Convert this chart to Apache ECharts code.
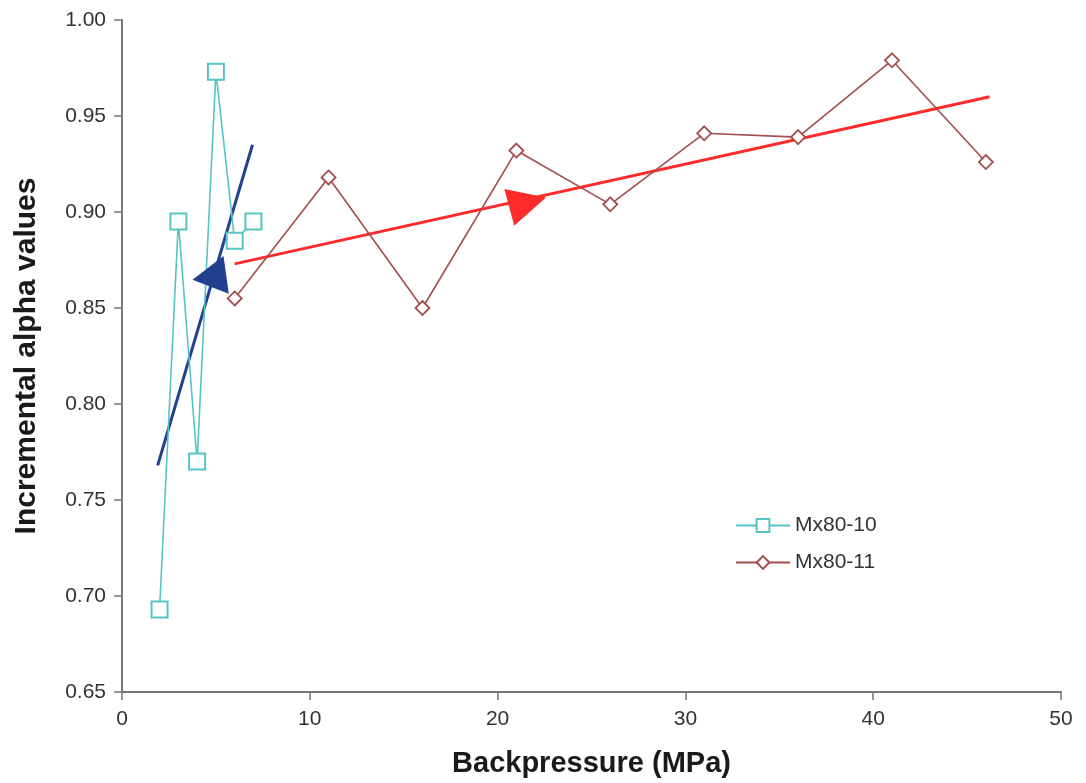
<!DOCTYPE html>
<html><head><meta charset="utf-8">
<script src="https://cdn.jsdelivr.net/npm/echarts@6/dist/echarts.min.js"></script>
<style>html,body{margin:0;padding:0;background:#fff}#c{width:1086px;height:783px}</style>
</head><body><div id="c"></div>
<script>
// Data
const mx10X = [2, 3, 4, 5, 6, 7];
const mx10Y = [0.693, 0.895, 0.770, 0.973, 0.885, 0.895];
const mx11X = [6, 11, 16, 21, 26, 31, 36, 41, 46];
const mx11Y = [0.855, 0.918, 0.850, 0.932, 0.904, 0.941, 0.939, 0.979, 0.926];
const blueTrendX = [1.9, 6.95];
const blueTrendY = [0.768, 0.935];
const redTrendX = [6.0, 46.2];
const redTrendY = [0.873, 0.960];
const blueArrow = [4.65, 0.866];
const redArrow = [21.6, 0.905];
const xTicks = [0, 10, 20, 30, 40, 50];
const yTicks = [0.65, 0.70, 0.75, 0.80, 0.85, 0.90, 0.95, 1.00];

const zip = (a, b) => a.map((v, i) => [v, b[i]]);
const font = 'Liberation Sans, Arial, sans-serif';

const chart = echarts.init(document.getElementById('c'));
chart.setOption({
  animation: false,
  backgroundColor: '#fff',
  grid: { left: 122, right: 25, top: 20, bottom: 90, containLabel: false },
  xAxis: {
    type: 'value', min: xTicks[0], max: xTicks[xTicks.length - 1], interval: 10,
    name: 'Backpressure (MPa)', nameLocation: 'middle', nameGap: 57,
    nameTextStyle: { fontFamily: font, fontWeight: 'bold', fontSize: 29, color: '#1a1a1a' },
    axisLine: { lineStyle: { color: '#777', width: 2 } },
    axisTick: { show: true, length: 8, lineStyle: { color: '#777', width: 1.5 } },
    axisLabel: { fontFamily: font, fontSize: 21, color: '#333', margin: 17 },
    splitLine: { show: false }
  },
  yAxis: {
    type: 'value', min: yTicks[0], max: yTicks[yTicks.length - 1], interval: 0.05,
    name: 'Incremental alpha values', nameLocation: 'middle', nameGap: 80, nameRotate: 90,
    nameTextStyle: { fontFamily: font, fontWeight: 'bold', fontSize: 30, color: '#1a1a1a' },
    axisLine: { show: true, lineStyle: { color: '#777', width: 2 } },
    axisTick: { show: true, length: 8, lineStyle: { color: '#777', width: 1.5 } },
    axisLabel: { fontFamily: font, fontSize: 21, color: '#333', margin: 16, formatter: v => v.toFixed(2) },
    splitLine: { show: false }
  },
  legend: {
    orient: 'vertical', left: 730, top: 510, itemGap: 16,
    itemWidth: 54, itemHeight: 16,
    textStyle: { fontFamily: font, fontSize: 21, color: '#333' },
    data: ['Mx80-10', 'Mx80-11']
  },
  series: [
    {
      name: 'blueTrend', type: 'line', data: zip(blueTrendX, blueTrendY),
      symbol: 'none', lineStyle: { color: '#22408f', width: 3 }, z: 3
    },
    {
      name: 'redTrend', type: 'line', data: zip(redTrendX, redTrendY),
      symbol: 'none', lineStyle: { color: '#ff2b2b', width: 3 }, z: 3
    },
    {
      name: 'Mx80-10', type: 'line', data: zip(mx10X, mx10Y),
      symbol: 'rect', symbolSize: 16, showAllSymbol: true,
      itemStyle: { color: '#fff', borderColor: '#55c4c4', borderWidth: 2 },
      lineStyle: { color: '#55c4c4', width: 1.6 }, z: 4
    },
    {
      name: 'Mx80-11', type: 'line', data: zip(mx11X, mx11Y),
      symbol: 'diamond', symbolSize: 14, showAllSymbol: true,
      itemStyle: { color: '#fff', borderColor: '#a34d4d', borderWidth: 1.8 },
      lineStyle: { color: '#a34d4d', width: 1.6 }, z: 4
    },
    {
      name: 'blueArrow', type: 'scatter', data: [blueArrow],
      symbol: 'triangle', symbolSize: [38, 34], symbolRotate: 98,
      itemStyle: { color: '#22408f', opacity: 1 }, z: 5
    },
    {
      name: 'redArrow', type: 'scatter', data: [redArrow],
      symbol: 'triangle', symbolSize: [38, 38], symbolRotate: -75,
      itemStyle: { color: '#ff2b2b', opacity: 1 }, z: 5
    }
  ]
});
</script>
</body></html>
